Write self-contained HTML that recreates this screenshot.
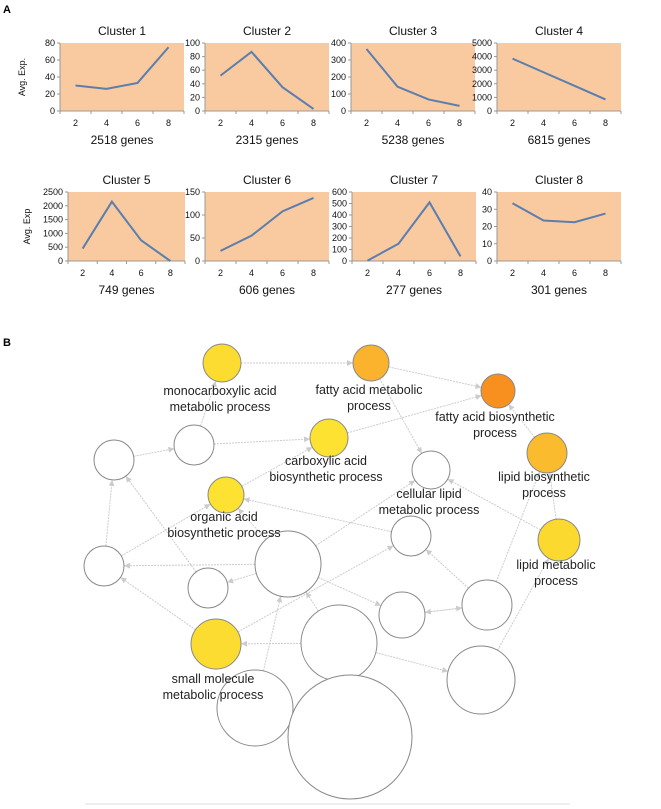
<!DOCTYPE html>
<html><head><meta charset="utf-8"><style>
body{margin:0;background:#fff;}
svg{display:block;font-family:"Liberation Sans",sans-serif;}
</style></head><body>
<svg id="fig" width="661" height="809" viewBox="0 0 661 809">
<text x="3" y="13" font-size="11" font-weight="bold">A</text>
<text x="3" y="346" font-size="11" font-weight="bold">B</text>
<g id="charts"></g>
<g id="net"></g>
<line x1="85" y1="804" x2="570" y2="804" stroke="#ddd" stroke-width="1"/>
</svg>
<script>
const clusterNames=["Cluster 1","Cluster 2","Cluster 3","Cluster 4","Cluster 5","Cluster 6","Cluster 7","Cluster 8"];
const geneCounts=["2518 genes","2315 genes","5238 genes","6815 genes","749 genes","606 genes","277 genes","301 genes"];
const xCategories=["2","4","6","8"];
const c1Values=[30,26,33,75];
const c2Values=[52,87,35,3];
const c3Values=[365,143,68,30];
const c4Values=[3850,2850,1850,850];
const c5Values=[450,2150,750,0];
const c6Values=[22,55,108,137];
const c7Values=[3,150,510,40];
const c8Values=[33.5,23.5,22.5,27.5];
const yMaxes=[80,100,400,5000,2500,150,600,40];
const ySteps=[20,20,100,1000,500,50,100,10];
const NS="http://www.w3.org/2000/svg";
function mk(tag,attrs,parent){const e=document.createElementNS(NS,tag);for(const k in attrs)e.setAttribute(k,attrs[k]);parent.appendChild(e);return e;}
const series=[c1Values,c2Values,c3Values,c4Values,c5Values,c6Values,c7Values,c8Values];
const lefts=[60,205,351,497,68,205,352,497];
const charts=document.getElementById('charts');
for(let c=0;c<8;c++){
  const row=c<4?0:1;
  const L=lefts[c], W=c===4?117:124, T=row?192:43, B=row?261:111;
  const g=mk('g',{},charts);
  
  
  const bg=mk('rect',{x:L,y:T,width:W,height:B-T,fill:'#f9c9a0'},g);
  
  
  const t=mk('text',{x:L+W/2,y:T-8,'font-size':12,'text-anchor':'middle',fill:'#111'},g);
  t.textContent=clusterNames[c];
  
  
  const gn=mk('text',{x:L+W/2,y:B+33,'font-size':12,'text-anchor':'middle',fill:'#111'},g);
  gn.textContent=geneCounts[c];
  
  
  const ys=v=>B-(v/yMaxes[c])*(B-T);
  const xs=i=>L+W/8+i*W/4;
  mk('line',{x1:L,y1:T,x2:L,y2:B,stroke:'#999','stroke-width':1},g);
  mk('line',{x1:L,y1:B,x2:L+W,y2:B,stroke:'#999','stroke-width':1},g);
  for(let v=0;v<=yMaxes[c];v+=ySteps[c]){
    mk('line',{x1:L-3,y1:ys(v),x2:L,y2:ys(v),stroke:'#999'},g);
    const tl=mk('text',{x:L-5,y:ys(v)+3,'font-size':9,'text-anchor':'end',fill:'#111'},g);
    tl.textContent=v;
    
    
  }
  for(let i=0;i<=4;i++)mk('line',{x1:L+i*W/4,y1:B,x2:L+i*W/4,y2:B+3,stroke:'#999'},g);
  xCategories.forEach((cat,i)=>{
    const xl=mk('text',{x:xs(i),y:B+15,'font-size':9,'text-anchor':'middle',fill:'#111'},g);
    xl.textContent=cat;
    
    
  });
  const pts=series[c].map((v,i)=>xs(i)+','+ys(v)).join(' ');
  const pl=mk('polyline',{points:pts,fill:'none',stroke:'#5a7eae','stroke-width':2},g);
  
  
  if(c===0||c===4){
    const yl=mk('text',{x:0,y:0,'font-size':9,'text-anchor':'middle',fill:'#111',transform:'translate('+(row?30:25)+','+((T+B)/2)+') rotate(-90)'},g);
    yl.textContent=row?'Avg. Exp':'Avg. Exp.';
    
    
  }
}
// network
const nodes=[[222,363,19,'#fcdc30'],[371,363,18,'#fbb22c'],[498,391,17,'#f8901f'],[547,453,20,'#fbbb2e'],[559,540,21,'#fcd92e'],[329,438,19,'#fde231'],[226,495,18,'#fde231'],[216,644,25,'#fcdc30'],
[194,445,20,'#fff'],[114,460,20,'#fff'],[431,470,19,'#fff'],[411,536,20,'#fff'],[104,566,20,'#fff'],[288,564,33,'#fff'],[208,588,20,'#fff'],[402,615,23,'#fff'],[487,605,25,'#fff'],[339,643,38,'#fff'],[481,680,34,'#fff'],[255,708,38,'#fff'],[350,737,62,'#fff']];
const edges=[[0,1],[1,2],[5,2],[8,5],[9,8],[8,0],[1,10],[3,2],[4,3],[4,10],[11,6],[12,9],[12,6],[13,12],[13,14],[13,10],[6,5],[7,12],[7,11],[14,9],[17,7],[17,18],[16,15],[15,16],[13,15],[16,11],[16,3],[18,4],[17,13],[19,13],[13,6]];
const net=document.getElementById('net');
const defs=mk('defs',{},net);
const m=mk('marker',{id:'ah',markerWidth:6,markerHeight:6,refX:6,refY:3,orient:'auto'},defs);
mk('path',{d:'M0,0 L6,3 L0,6 z',fill:'#ccc'},m);
edges.forEach(e=>{
  const a=nodes[e[0]],b=nodes[e[1]];
  const dx=b[0]-a[0],dy=b[1]-a[1],d=Math.hypot(dx,dy);
  const ln=mk('line',{x1:a[0]+dx/d*a[2],y1:a[1]+dy/d*a[2],x2:b[0]-dx/d*b[2],y2:b[1]-dy/d*b[2],stroke:'#ccc','stroke-width':1,'stroke-dasharray':'2,1','marker-end':'url(#ah)'},net);
  
  
});
nodes.forEach(n=>{
  const ci=mk('circle',{cx:n[0],cy:n[1],r:n[2],fill:n[3],stroke:'#888','stroke-width':1},net);
  
  
});
const labels=[["monocarboxylic acid","metabolic process",220,395],["fatty acid metabolic","process",369,394],["fatty acid biosynthetic","process",495,421],["carboxylic acid","biosynthetic process",326,465],["lipid biosynthetic","process",544,481],["cellular lipid","metabolic process",429,498],["organic acid","biosynthetic process",224,521],["lipid metabolic","process",556,569],["small molecule","metabolic process",213,683]];
labels.forEach(l=>{
  const t=mk('text',{x:l[2],y:l[3],'font-size':12.5,'text-anchor':'middle',fill:'#222'},net);
  
  
  const s1=mk('tspan',{x:l[2],dy:0},t);s1.textContent=l[0];
  const s2=mk('tspan',{x:l[2],dy:16},t);s2.textContent=l[1];
});
</script>
</body></html>
